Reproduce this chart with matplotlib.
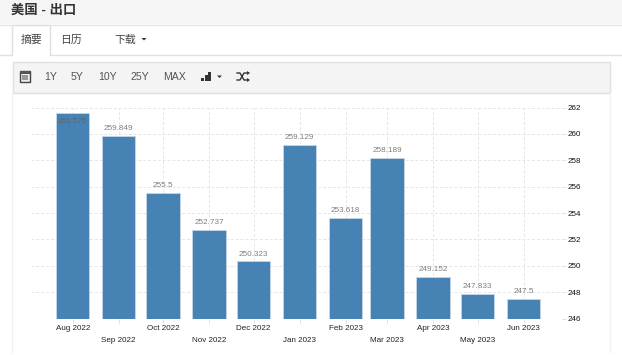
# -*- coding: utf-8 -*-
import datetime as dt
import matplotlib
matplotlib.use("Agg")
import matplotlib.dates as mdates
import matplotlib.pyplot as plt
from matplotlib.patches import Rectangle, Polygon

plt.rcParams['font.family'] = ['Liberation Sans', 'Noto Sans CJK SC', 'DejaVu Sans']

# datos
meses = ["2022-08-01", "2022-09-01", "2022-10-01", "2022-11-01", "2022-12-01", "2023-01-01",
         "2023-02-01", "2023-03-01", "2023-04-01", "2023-05-01", "2023-06-01"]
valores = [261.575, 259.849, 255.5, 252.737, 250.323, 259.129,
           253.618, 258.189, 249.152, 247.833, 247.5]
etiquetas = ["261.575", "259.849", "255.5", "252.737", "250.323", "259.129",
             "253.618", "258.189", "249.152", "247.833", "247.5"]
nombres_x = ["Aug 2022", "Sep 2022", "Oct 2022", "Nov 2022", "Dec 2022", "Jan 2023",
             "Feb 2023", "Mar 2023", "Apr 2023", "May 2023", "Jun 2023"]
ticks_y = [246, 248, 250, 252, 254, 256, 258, 260, 262]
botones = ["1Y", "5Y", "10Y", "25Y", "MAX"]
botones_x = [51, 77.5, 108, 140, 175]

fechas = [mdates.date2num(dt.date.fromisoformat(m)) for m in meses]
W, H = 622, 355
fig = plt.figure(figsize=(W / 100, H / 100), dpi=100, facecolor="white")

# capa de fondo en pixeles: encabezado, pestañas y barra de herramientas
fondo = fig.add_axes([0, 0, 1, 1])
fondo.set_xlim(0, W)
fondo.set_ylim(H, 0)
fondo.axis("off")
fondo.add_patch(Rectangle((0, 0), W, 24, fc="#f5f5f5", ec="none"))
fondo.plot([0, W], [24.5, 24.5], color="#e4e4e4", lw=1)
fondo.plot([0, 12, 12, 50, 50, W], [55, 55, 25, 25, 55, 55], color="#e0e0e0", lw=1)
fondo.add_patch(Rectangle((12.5, 61.5), 597, 31, fc="#f4f4f4", ec="#e0e0e0", lw=1))
fondo.plot([12, 12], [93, H - 3], color="#f2f2f2", lw=1)
fondo.plot([610, 610], [93, H - 3], color="#f2f2f2", lw=1)

fondo.text(11, 10.5, "美国 - 出口", fontsize=9.6, fontweight="bold", color="#333333", va="center")
fondo.text(32, 39.5, "摘要", fontsize=7.8, color="#444444", va="center", ha="center")
fondo.text(71, 39.5, "日历", fontsize=7.8, color="#444444", va="center", ha="center")
fondo.text(125, 39.5, "下载", fontsize=7.8, color="#444444", va="center", ha="center")
fondo.add_patch(Polygon([[141.5, 38], [146.5, 38], [144, 40.5]], fc="#333333", ec="none"))

for t, x in zip(botones, botones_x):
    fondo.text(x, 76.5, t, fontsize=7.6, color="#555555", va="center", ha="center")

# iconos de la barra
fondo.add_patch(Rectangle((19.5, 71), 10.5, 11, fc="#eeeeee", ec="#444444", lw=1))
fondo.add_patch(Rectangle((19.5, 71), 10.5, 2.5, fc="#555555", ec="none"))
fondo.add_patch(Rectangle((21.5, 75), 6.5, 5, fc="#999999", ec="none"))
for x, alto in zip([201, 204.5, 208], [3, 6, 9.5]):
    fondo.add_patch(Rectangle((x, 81 - alto), 3, alto, fc="#333333", ec="none"))
fondo.add_patch(Polygon([[217, 75.5], [222, 75.5], [219.5, 78]], fc="#333333", ec="none"))
fondo.plot([237, 240, 244, 248], [73, 73, 80, 80], color="#333333", lw=1)
fondo.plot([237, 240, 244, 248], [80, 80, 73, 73], color="#333333", lw=1)
fondo.add_patch(Polygon([[247, 71], [250, 73], [247, 75]], fc="#333333", ec="none"))
fondo.add_patch(Polygon([[247, 78], [250, 80], [247, 82]], fc="#333333", ec="none"))

# grafico de barras
izq, der, arriba, abajo = 31, 562, 107.5, 318.5
ax = fig.add_axes([izq / W, 1 - abajo / H, (der - izq) / W, (abajo - arriba) / H])
ax.patch.set_alpha(0)
px_dia = 1.483
ax.set_xlim(fechas[0] - (72.7 - izq) / px_dia, fechas[0] + (der - 72.7) / px_dia)
ax.set_ylim(246, 262)
ax.bar(fechas, [v - 246 for v in valores], bottom=246, width=33.5 / px_dia,
       color="#4682b4", edgecolor="#c5d7e8", linewidth=0.6, zorder=3)

for i, (f, v, e) in enumerate(zip(fechas, valores, etiquetas)):
    # la primera etiqueta queda dentro de la barra
    y = v - 0.72 if i == 0 else v + 0.45
    ax.text(f, y, e, fontsize=5.9, color="#7f7f7f" if i else "#5a6672", ha="center",
            va="baseline", zorder=4)

ax.set_xticks(fechas)
ax.set_xticklabels(nombres_x)
for i, lab in enumerate(ax.get_xticklabels()):
    lab.set_y(0 if i % 2 == 0 else -0.057)
    lab.set_fontsize(5.8)
    lab.set_color("#222222")
ax.tick_params(axis="x", length=3, width=0.6, color="#dddddd", pad=1.5)
ax.yaxis.tick_right()
ax.set_yticks(ticks_y)
ax.tick_params(axis="y", length=3, width=0.6, color="#dddddd", labelsize=5.8,
               labelcolor="#111111", pad=1.2)
ax.grid(True, color="#e6e6e6", lw=0.7, ls=(0, (3, 2)), zorder=0)
ax.set_axisbelow(True)
for s in ax.spines.values():
    s.set_visible(False)

fig.savefig("out.png", dpi=100)
